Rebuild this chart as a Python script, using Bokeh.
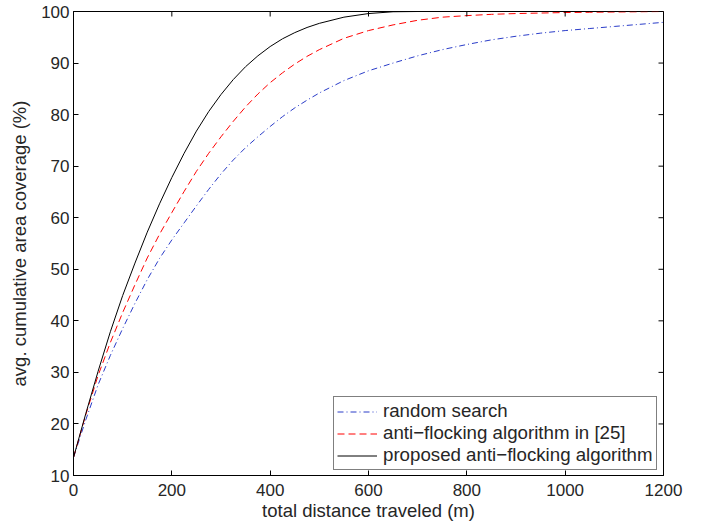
import math
from bokeh.plotting import figure
from bokeh.models import FixedTicker, Legend, LegendItem, Range1d
from bokeh.embed import file_html
from bokeh.resources import INLINE

# distance traveled (m)
distance = [0, 25, 50, 75, 100, 125, 150, 175, 200, 225, 250, 275, 300, 325,
            350, 375, 400, 425, 450, 475, 500, 550, 600, 650, 700, 750, 800,
            850, 900, 950, 1000, 1050, 1100, 1150, 1200]

random_search = [13.5, 20.8, 27.6, 33.3, 38.5, 43.4, 48.0, 52.1, 55.7, 59.0,
                 62.3, 65.5, 68.5, 71.2, 73.6, 75.7, 77.7, 79.6, 81.3, 82.8,
                 84.2, 86.6, 88.5, 90.0, 91.4, 92.6, 93.6, 94.5, 95.2, 95.8,
                 96.3, 96.7, 97.1, 97.5, 97.9]
anti_flocking_25 = [13.5, 21.8, 29.4, 35.8, 41.6, 47.0, 52.2, 56.8, 61.0, 65.1,
                    69.0, 72.5, 75.7, 78.7, 81.5, 84.0, 86.2, 88.1, 89.8, 91.3,
                    92.6, 94.8, 96.3, 97.4, 98.3, 98.9, 99.2, 99.45, 99.6, 99.7,
                    99.8, 99.85, 99.9, 99.95, 100.0]
proposed = [13.5, 22.0, 30.2, 37.9, 44.9, 51.2, 57.2, 62.7, 67.8, 72.5,
            76.8, 80.6, 83.9, 86.8, 89.3, 91.4, 93.2, 94.7, 95.9, 96.9,
            97.7, 98.9, 99.6, 99.95, 100.0, 100.0, 100.0, 100.0, 100.0, 100.0,
            100.0, 100.0, 100.0, 100.0, 100.0]

x_ticks = [0, 200, 400, 600, 800, 1000, 1200]
y_ticks = [10, 20, 30, 40, 50, 60, 70, 80, 90, 100]
X_MAX = 1200
Y_MAX = 100

FONT = "Liberation Sans"
TXT = "#262626"

p = figure(width=702, height=523, output_backend="svg", toolbar_location=None,
           x_range=Range1d(0, 1200), y_range=Range1d(10, 100),
           min_border_left=73, min_border_right=39, min_border_top=11,
           min_border_bottom=47)
p.xgrid.visible = False
p.ygrid.visible = False
p.outline_line_color = "black"
p.outline_line_width = 1
p.background_fill_color = "white"
p.border_fill_color = "white"

r1 = p.line(distance, random_search, line_color="#2a3cc8", line_width=1,
            line_dash="6 3 1 3")
r2 = p.line(distance, anti_flocking_25, line_color="#ff0000", line_width=1,
            line_dash="7 4")
r3 = p.line(distance, proposed, line_color="black", line_width=1)

# inward ticks on the top and right edges of the box (MATLAB "box on")
p.scatter(x=x_ticks, y=[Y_MAX] * len(x_ticks), marker="dash", size=10,
          angle=math.pi / 2, line_color="black", line_width=1)
p.scatter(x=[X_MAX] * len(y_ticks), y=y_ticks, marker="dash", size=10,
          line_color="black", line_width=1)

for ax in (p.xaxis[0], p.yaxis[0]):
    ax.major_tick_in = 5
    ax.major_tick_out = 0
    ax.minor_tick_in = 0
    ax.minor_tick_out = 0
    ax.axis_line_color = "black"
    ax.major_tick_line_color = "black"
    ax.major_label_text_font = FONT
    ax.major_label_text_font_size = "17px"
    ax.major_label_text_color = TXT
    ax.axis_label_text_font = FONT
    ax.axis_label_text_font_size = "18.5px"
    ax.axis_label_text_font_style = "normal"
    ax.axis_label_text_color = TXT

p.xaxis[0].ticker = FixedTicker(ticks=x_ticks)
p.yaxis[0].ticker = FixedTicker(ticks=y_ticks)
p.xaxis[0].axis_label = "total distance traveled (m)"
p.yaxis[0].axis_label = "avg. cumulative area coverage (%)"
p.xaxis[0].major_label_standoff = 8
p.xaxis[0].axis_label_standoff = 1
p.yaxis[0].major_label_standoff = 4
p.yaxis[0].axis_label_standoff = 8

legend = Legend(items=[
    LegendItem(label="random search", renderers=[r1]),
    LegendItem(label="anti\u2212flocking algorithm in [25]", renderers=[r2]),
    LegendItem(label="proposed anti\u2212flocking algorithm", renderers=[r3]),
], location=(260, 5))
legend.margin = 0
legend.padding = 3
legend.spacing = 0
legend.glyph_width = 40
legend.glyph_height = 21
legend.label_height = 21
legend.label_standoff = 6
legend.label_text_font = FONT
legend.label_text_font_size = "18.7px"
legend.label_text_color = TXT
legend.border_line_color = "black"
legend.border_line_width = 1
legend.background_fill_alpha = 1.0
p.add_layout(legend)

open("out.html", "w").write(file_html(p, INLINE))
